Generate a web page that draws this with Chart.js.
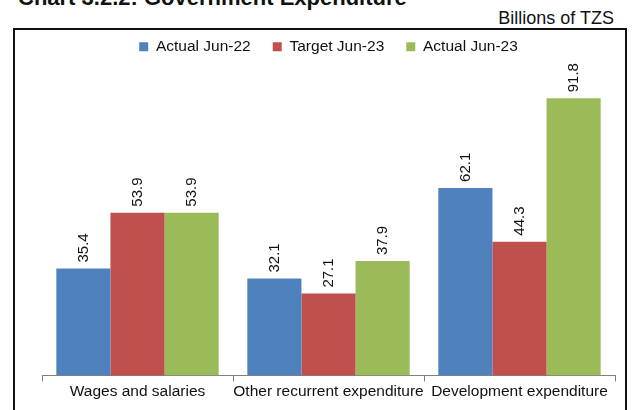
<!DOCTYPE html>
<html>
<head>
<meta charset="utf-8">
<script src="https://cdn.jsdelivr.net/npm/chart.js@4"></script>
<style>
    html, body { margin: 0; padding: 0; background: #fff; }
    body { width: 640px; height: 410px; position: relative; overflow: hidden; font-family: "Liberation Sans", Arial, sans-serif; }
    #title { position: absolute; left: 18px; top: -12px; font-size: 22px; line-height: 20px; font-weight: bold; color: #111; white-space: nowrap; }
    #unit { position: absolute; right: 26px; top: 7px; font-size: 18px; line-height: 22px; color: #111; }
    #frame { position: absolute; left: 13px; top: 28px; width: 610px; height: 400px; border: 2px solid #111; }
    #wrap { position: absolute; left: 0; top: 0; width: 640px; height: 410px; }
</style>
</head>
<body>
<div id="title">Chart 3.2.2: Government Expenditure</div>
<div id="unit">Billions of TZS</div>
<div id="frame"></div>
<div id="wrap"><canvas id="expChart"></canvas></div>
<script>
/* 政府支出グラフ */
const categories = ['Wages and salaries', 'Other recurrent expenditure', 'Development expenditure'];
const seriesNames = ['Actual Jun-22', 'Target Jun-23', 'Actual Jun-23'];
const actualJun22 = [35.4, 32.1, 62.1];
const targetJun23 = [53.9, 27.1, 44.3];
const actualJun23 = [53.9, 37.9, 91.8];
const barColors = ['#4F81BD', '#C0504D', '#9BBB59'];

const FONT = '"Liberation Sans", Arial, sans-serif';

// 棒の上に縦向きの値ラベルを描く
const valueLabels = {
    id: 'valueLabels',
    afterDatasetsDraw(chart) {
        const ctx = chart.ctx;
        ctx.save();
        ctx.font = '15px ' + FONT;
        ctx.fillStyle = '#111';
        ctx.textAlign = 'left';
        ctx.textBaseline = 'middle';
        chart.data.datasets.forEach(function (ds, di) {
            chart.getDatasetMeta(di).data.forEach(function (bar, i) {
                ctx.save();
                ctx.translate(bar.x, bar.y - 6);
                ctx.rotate(-Math.PI / 2);
                ctx.fillText(ds.data[i].toFixed(1), 0, 0);
                ctx.restore();
            });
        });
        ctx.restore();
    }
};

const ctx = document.getElementById('expChart');
new Chart(ctx.getContext('2d'), {
    type: 'bar',
    data: {
        labels: categories,
        datasets: [
            { label: seriesNames[0], data: actualJun22, backgroundColor: barColors[0] },
            { label: seriesNames[1], data: targetJun23, backgroundColor: barColors[1] },
            { label: seriesNames[2], data: actualJun23, backgroundColor: barColors[2] }
        ]
    },
    options: {
        responsive: true,
        maintainAspectRatio: false,
        animation: false,
        datasets: {
            bar: { categoryPercentage: 0.85, barPercentage: 1.0, borderWidth: 0 }
        },
        layout: { padding: { left: 42, right: 25, top: 17, bottom: 8 } },
        plugins: {
            legend: {
                position: 'top',
                labels: {
                    boxWidth: 9,
                    boxHeight: 9,
                    padding: 22,
                    color: '#111',
                    font: { size: 15.5, family: FONT }
                }
            },
            tooltip: { enabled: false }
        },
        scales: {
            x: {
                grid: {
                    offset: true,
                    drawOnChartArea: false,
                    drawTicks: true,
                    tickLength: 6,
                    color: '#808080'
                },
                border: { display: true, color: '#808080', width: 1 },
                ticks: {
                    padding: 1,
                    color: '#111',
                    font: { size: 15.5, family: FONT },
                    maxRotation: 0,
                    autoSkip: false
                }
            },
            y: {
                display: false,
                min: 0,
                max: 103
            }
        }
    },
    plugins: [valueLabels]
});
</script>
</body>
</html>
